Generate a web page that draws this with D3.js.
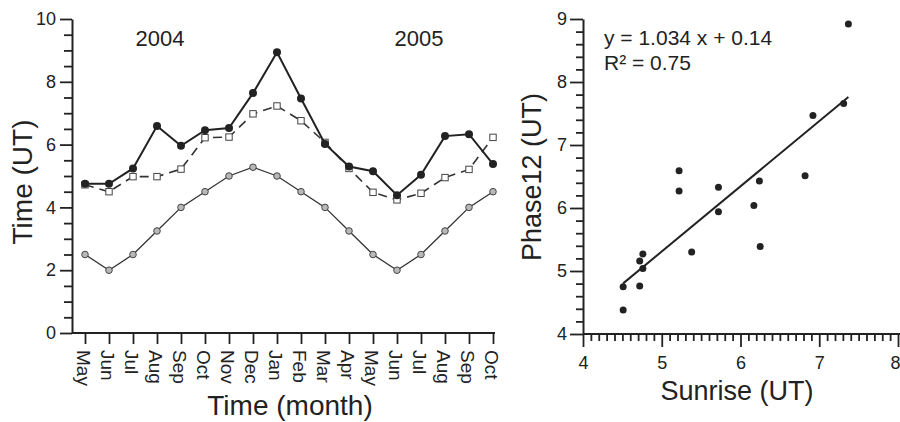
<!DOCTYPE html>
<html>
<head>
<meta charset="utf-8">
<script src="https://cdn.jsdelivr.net/npm/d3@7"></script>
<style>
  html, body { margin: 0; padding: 0; background: #fff; }
  svg { display: block; }
  text { font-family: "Liberation Sans", Arial, Helvetica, sans-serif; fill: #222; }
</style>
</head>
<body>
<svg id="chart" width="900" height="422"></svg>
<script>
// Monthly series, May 2004 – Oct 2005
const months = ["May","Jun","Jul","Aug","Sep","Oct","Nov","Dec","Jan","Feb","Mar","Apr","May","Jun","Jul","Aug","Sep","Oct"];
const phase12 = [4.75,4.75,5.24,6.59,5.96,6.46,6.53,7.64,8.94,7.47,6.02,5.30,5.15,4.39,5.04,6.27,6.33,5.38];
const dashedSeries = [4.72,4.50,4.98,4.98,5.22,6.22,6.24,6.98,7.23,6.76,6.07,5.24,4.48,4.24,4.45,4.95,5.21,6.23];
const lowerSeries = [2.5,2.0,2.5,3.25,4.0,4.5,5.0,5.28,5.0,4.5,4.0,3.25,2.5,2.0,2.5,3.25,4.0,4.5];
const yearLabels = [{text: "2004", at: 3.125}, {text: "2005", at: 13.917}];
const leftYTicks = [0, 2, 4, 6, 8, 10];
const leftYMinor = [0.5, 1, 1.5, 2.5, 3, 3.5, 4.5, 5, 5.5, 6.5, 7, 7.5, 8.5, 9, 9.5];

// Scatter: sunrise vs Phase12
const sunrise = [7.37,7.31,6.92,5.22,5.22,5.72,6.24,6.82,5.72,6.17,6.25,5.38,4.76,4.72,4.76,4.51,4.72,4.51];
const phaseScatter = [8.92,7.66,7.47,6.59,6.27,6.33,6.43,6.51,5.94,6.04,5.39,5.30,5.27,5.16,5.04,4.75,4.76,4.38];
const fitSlope = 1.034, fitIntercept = 0.14, fitR2 = 0.75;
const rightXTicks = [4, 5, 6, 7, 8];
const rightYTicks = [4, 5, 6, 7, 8, 9];
const rightXMinorStep = 0.1;
const rightYMinorStep = 0.2;

const svg = d3.select("#chart");
const ink = "#222";
const tw = 2; // axis line thickness

function minorValues(lo, hi, step, majors) {
  const n = Math.round((hi - lo) / step);
  return d3.range(n + 1).map(i => lo + i * step)
    .filter(v => !majors.some(t => Math.abs(t - v) < 1e-6));
}

// ---------- Left panel: time series ----------
const L = svg.append("g");
const xL = d3.scalePoint().domain(d3.range(months.length)).range([85, 493]);
const yL = d3.scaleLinear().domain([0, 10]).range([333, 19]);
const x0L = 72, y0L = yL(0);

// y axis: major ticks every 2, minor every 0.5
const yAxisL = d3.axisLeft(yL).tickValues(leftYMinor.concat(leftYTicks).sort(d3.ascending))
  .tickSizeInner(8).tickSizeOuter(0).tickPadding(4)
  .tickFormat(d => leftYTicks.includes(d) ? d : "");
const gyL = L.append("g").attr("transform", `translate(${x0L},0)`).call(yAxisL);
gyL.selectAll(".tick").filter(d => leftYTicks.includes(d)).select("line").attr("x2", -12);

// x axis: one tick per month
const xAxisL = d3.axisBottom(xL).tickSizeInner(11).tickSizeOuter(0).tickFormat("");
const gxL = L.append("g").attr("transform", `translate(0,${y0L})`).call(xAxisL);
gxL.select(".domain").attr("d", `M${x0L},0H495`);
gxL.selectAll(".tick").append("text")
  .attr("transform", "translate(-9,17) rotate(90)")
  .attr("text-anchor", "start")
  .text(d => months[d]);

[gyL, gxL].forEach(g => {
  g.attr("font-family", null).attr("font-size", null);
  g.selectAll(".domain").attr("stroke", ink).attr("stroke-width", tw);
  g.selectAll(".tick line").attr("stroke", ink).attr("stroke-width", 1.8);
  g.selectAll(".tick text").attr("fill", ink);
});
gyL.selectAll(".tick text").attr("font-size", 18).attr("x", -16);
gxL.selectAll(".tick text").attr("font-size", 19);

const lineL = arr => d3.line().x((d, i) => xL(i)).y(d => yL(d))(arr);

// lower series: thin solid line with grey circles
L.append("path").attr("d", lineL(lowerSeries)).attr("fill", "none")
  .attr("stroke", "#333").attr("stroke-width", 1.3);
L.selectAll(".c-low").data(lowerSeries).join("circle").attr("class", "c-low")
  .attr("cx", (d, i) => xL(i)).attr("cy", d => yL(d)).attr("r", 3.3)
  .attr("fill", "#b8b8b8").attr("stroke", "#444").attr("stroke-width", 1);

// dashed series with open squares
L.append("path").attr("d", lineL(dashedSeries)).attr("fill", "none")
  .attr("stroke", "#333").attr("stroke-width", 1.6).attr("stroke-dasharray", "9,6");
L.selectAll(".sq").data(dashedSeries).join("rect").attr("class", "sq")
  .attr("x", (d, i) => xL(i) - 3.2).attr("y", d => yL(d) - 3.2)
  .attr("width", 6.4).attr("height", 6.4)
  .attr("fill", "#fff").attr("stroke", "#444").attr("stroke-width", 1);

// Phase12 series: solid line with filled dots
L.append("path").attr("d", lineL(phase12)).attr("fill", "none")
  .attr("stroke", ink).attr("stroke-width", 2);
L.selectAll(".dot").data(phase12).join("circle").attr("class", "dot")
  .attr("cx", (d, i) => xL(i)).attr("cy", d => yL(d)).attr("r", 4)
  .attr("fill", ink);

// year labels
L.selectAll(".yr").data(yearLabels).join("text").attr("class", "yr")
  .attr("x", d => 85 + d.at * 24).attr("y", 46)
  .attr("text-anchor", "middle").attr("font-size", 22).text(d => d.text);

// axis titles
L.append("text").attr("transform", "translate(32,182) rotate(-90)")
  .attr("text-anchor", "middle").attr("font-size", 28).text("Time (UT)");
L.append("text").attr("x", 290).attr("y", 415)
  .attr("text-anchor", "middle").attr("font-size", 28).text("Time (month)");

// ---------- Right panel: scatter ----------
const R = svg.append("g");
const xR = d3.scaleLinear().domain([4, 8]).range([583, 898]);
const yR = d3.scaleLinear().domain([4, 9]).range([334, 19]);
const x0R = xR(4), y0R = yR(4);

const yAxisR = d3.axisLeft(yR)
  .tickValues(minorValues(4, 9, rightYMinorStep, rightYTicks).concat(rightYTicks))
  .tickSizeInner(7).tickSizeOuter(0)
  .tickFormat(d => rightYTicks.includes(d) ? d : "");
const gyR = R.append("g").attr("transform", `translate(${x0R},0)`).call(yAxisR);
gyR.selectAll(".tick").filter(d => rightYTicks.includes(d)).select("line").attr("x2", -13);

const xAxisR = d3.axisBottom(xR)
  .tickValues(minorValues(4, 8, rightXMinorStep, rightXTicks).concat(rightXTicks))
  .tickSizeInner(7).tickSizeOuter(0)
  .tickFormat(d => rightXTicks.includes(d) ? d : "");
const gxR = R.append("g").attr("transform", `translate(0,${y0R})`).call(xAxisR);
gxR.select(".domain").attr("d", `M${x0R},0H900`);
gxR.selectAll(".tick").filter(d => rightXTicks.includes(d)).select("line").attr("y2", 13);

[gyR, gxR].forEach(g => {
  g.attr("font-family", null).attr("font-size", null);
  g.selectAll(".domain").attr("stroke", ink).attr("stroke-width", tw);
  g.selectAll(".tick line").attr("stroke", ink).attr("stroke-width", 1.8);
  g.selectAll(".tick text").attr("fill", ink).attr("font-size", 18);
});
gyR.selectAll(".tick text").attr("x", -16);
gxR.selectAll(".tick text").attr("y", 22);
gxR.selectAll(".tick").filter(d => d === 8).select("text").attr("text-anchor", "end").attr("x", 2);

// fitted line from the stated regression
const fitX = d3.extent(sunrise);
R.append("line")
  .attr("x1", xR(fitX[0])).attr("y1", yR(fitSlope * fitX[0] + fitIntercept))
  .attr("x2", xR(fitX[1])).attr("y2", yR(fitSlope * fitX[1] + fitIntercept))
  .attr("stroke", ink).attr("stroke-width", 2);

R.selectAll(".pt").data(sunrise).join("circle").attr("class", "pt")
  .attr("cx", d => xR(d)).attr("cy", (d, i) => yR(phaseScatter[i])).attr("r", 3.5)
  .attr("fill", ink);

// equation text
R.append("text").attr("x", 604).attr("y", 45).attr("font-size", 21)
  .text(`y = ${fitSlope} x + ${fitIntercept}`);
R.append("text").attr("x", 604).attr("y", 70).attr("font-size", 21)
  .text(`R² = ${fitR2}`);

// axis titles
R.append("text").attr("transform", "translate(541,177) rotate(-90)")
  .attr("text-anchor", "middle").attr("font-size", 27).text("Phase12 (UT)");
R.append("text").attr("x", 737).attr("y", 400)
  .attr("text-anchor", "middle").attr("font-size", 27).text("Sunrise (UT)");
</script>
</body>
</html>
